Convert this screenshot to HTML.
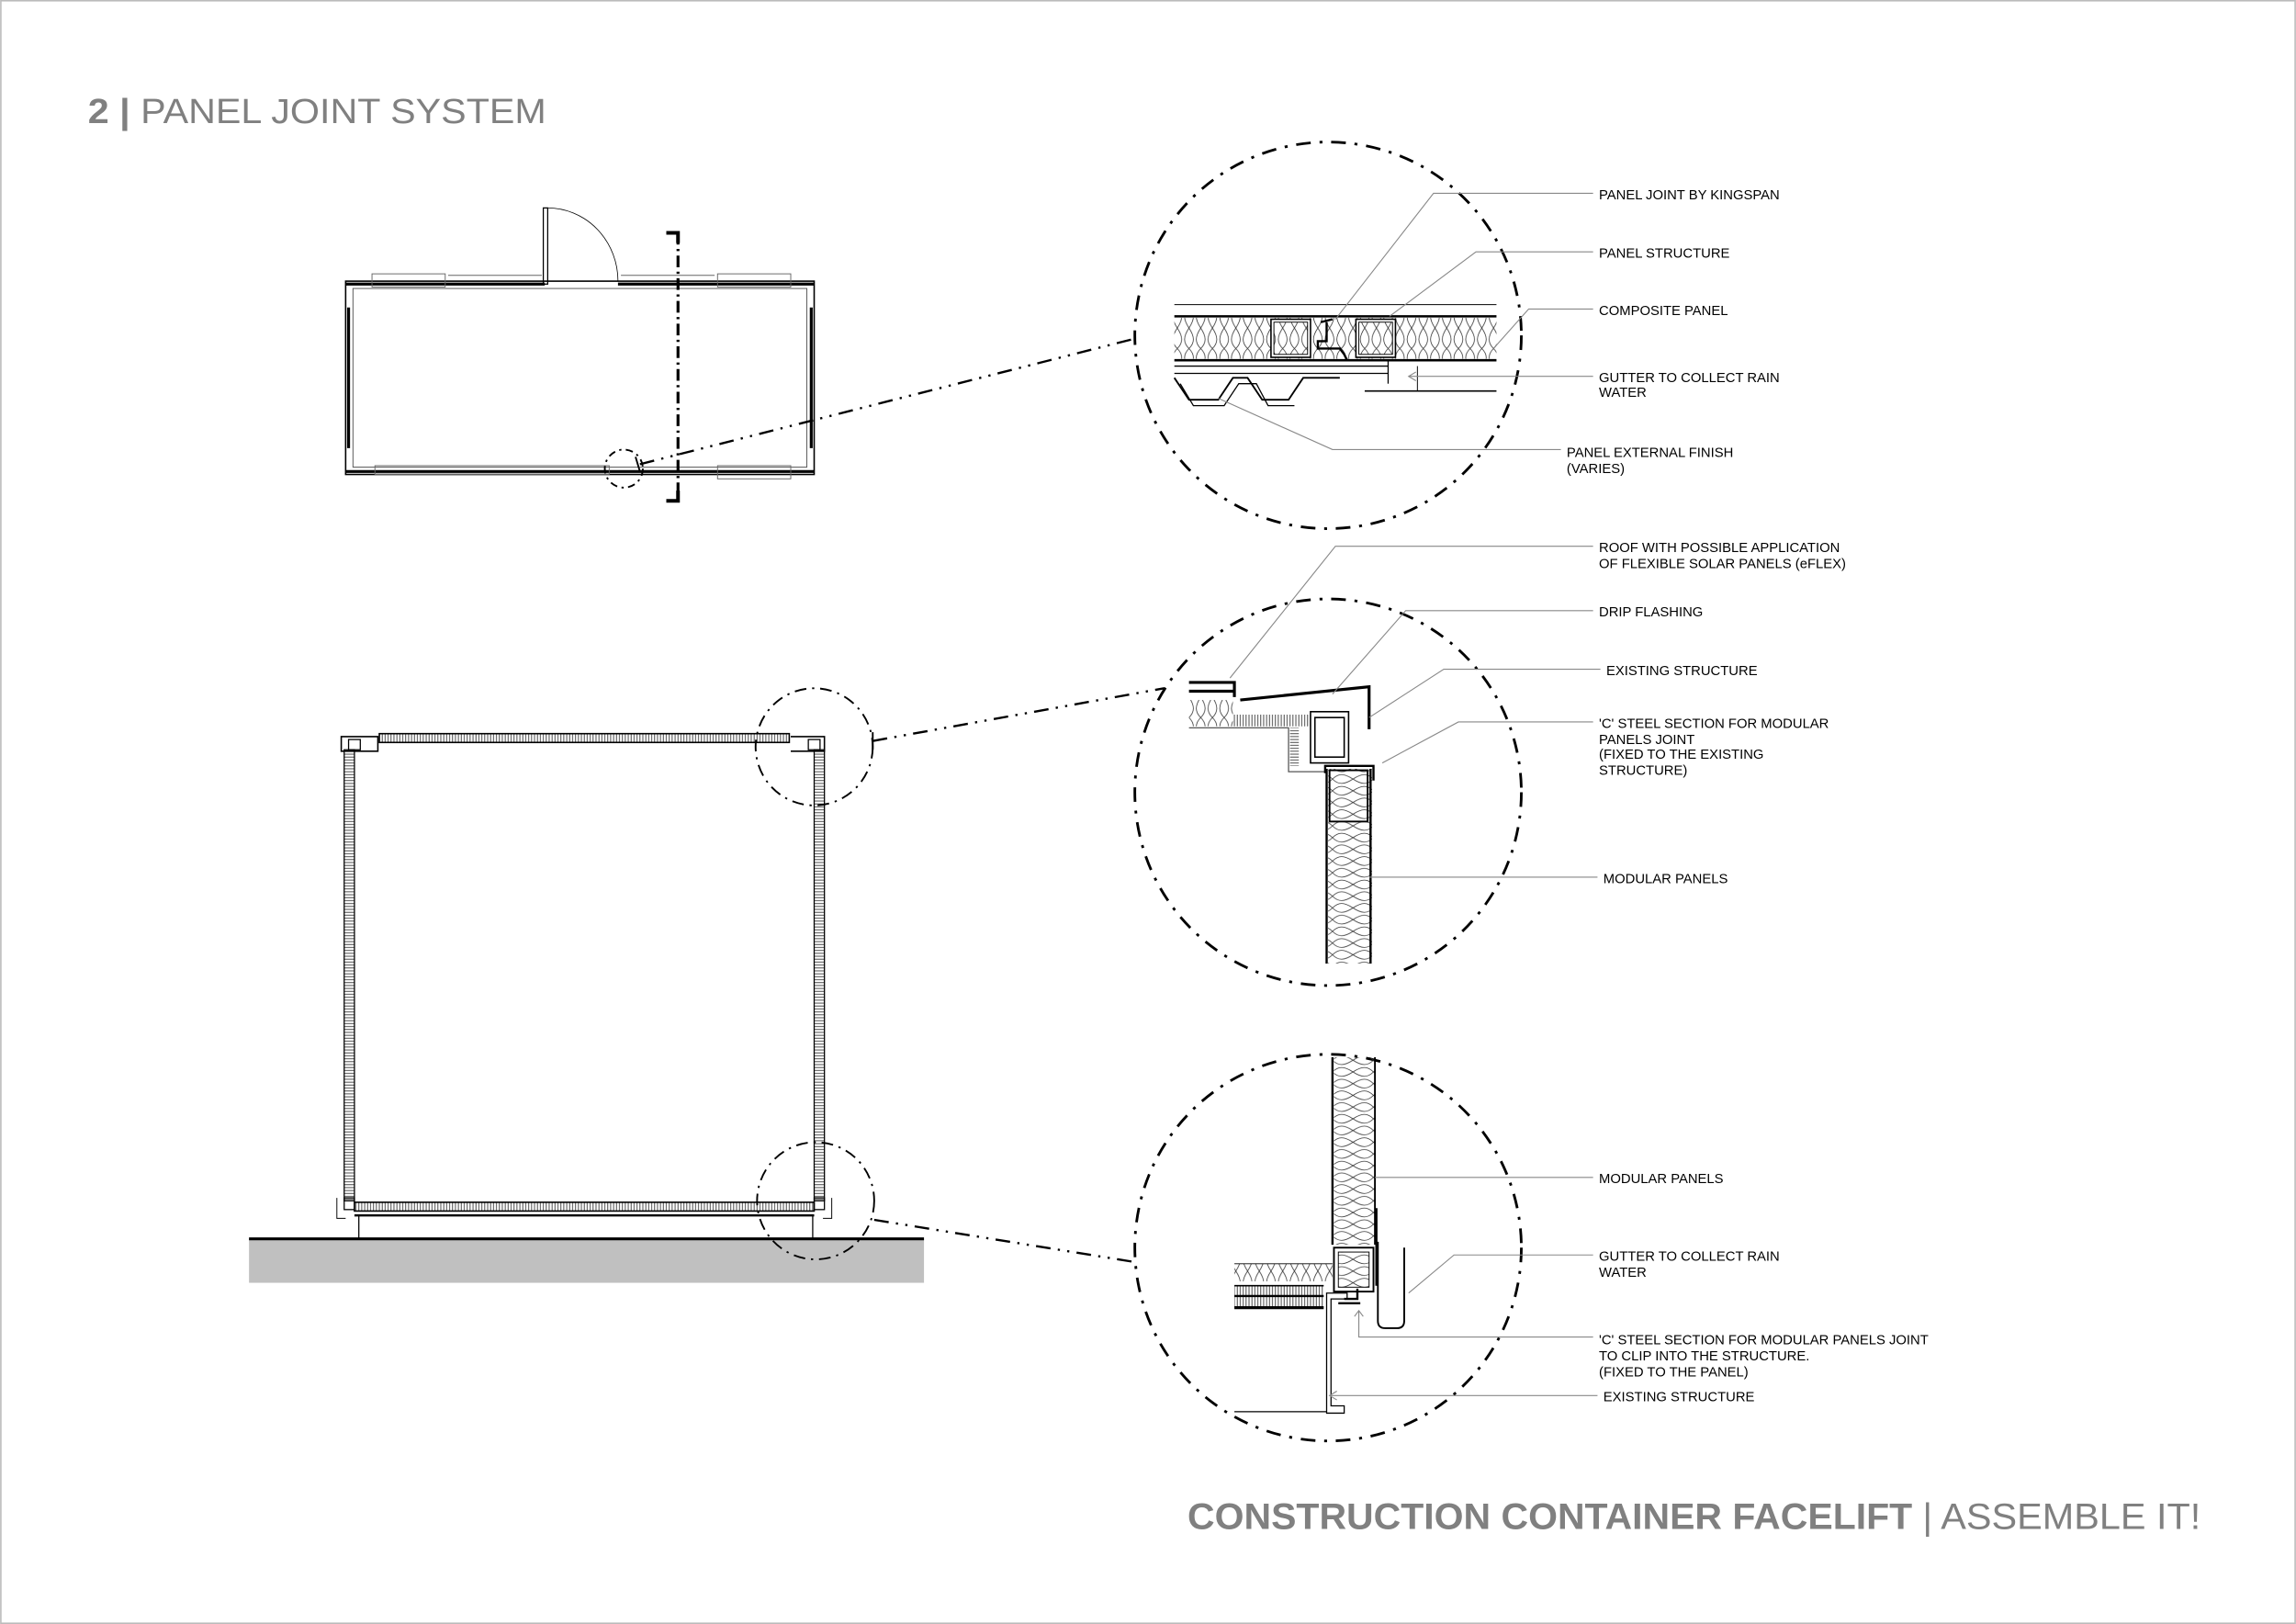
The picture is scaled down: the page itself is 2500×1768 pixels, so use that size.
<!DOCTYPE html>
<html><head><meta charset="utf-8"><style>
html,body{margin:0;padding:0;background:#fff;}
svg{display:block;}
</style></head><body>
<svg width="2500" height="1768" viewBox="0 0 1568 1109" xmlns="http://www.w3.org/2000/svg" font-family="Liberation Sans, Arial, sans-serif">
<defs>
<pattern id="insH" width="8" height="28" patternUnits="userSpaceOnUse">
<path d="M4 0 C0 6,0 10,4 14 C8 18,8 22,4 28 M4 0 C8 6,8 10,4 14 C0 18,0 22,4 28" fill="none" stroke="#333" stroke-width="0.5"/>
</pattern>
<pattern id="insV" width="28" height="8" patternUnits="userSpaceOnUse">
<path d="M0 4 C6 0,10 0,14 4 C18 8,22 8,28 4 M0 4 C6 8,10 8,14 4 C18 0,22 0,28 4" fill="none" stroke="#333" stroke-width="0.5"/>
</pattern>
<pattern id="fine" width="2" height="4" patternUnits="userSpaceOnUse">
<rect width="2" height="4" fill="#fff"/><line x1="1" y1="0" x2="1" y2="4" stroke="#444" stroke-width="0.6"/>
</pattern>
<pattern id="fineV" width="4" height="2" patternUnits="userSpaceOnUse">
<rect width="4" height="2" fill="#fff"/><line x1="0" y1="1" x2="4" y2="1" stroke="#444" stroke-width="0.6"/>
</pattern>
</defs>
<rect x="0.5" y="0.5" width="1567" height="1108" fill="#fff" stroke="#bbb" stroke-width="1"/>

<!-- Titles -->
<text x="60" y="84" font-size="24" fill="#808080" textLength="313" lengthAdjust="spacingAndGlyphs"><tspan font-weight="bold">2 |</tspan> PANEL JOINT SYSTEM</text>
<text x="811" y="1044" font-size="25" fill="#808080" font-weight="bold" textLength="495" lengthAdjust="spacingAndGlyphs">CONSTRUCTION CONTAINER FACELIFT</text>
<text x="1313" y="1044" font-size="25" fill="#808080" textLength="190" lengthAdjust="spacingAndGlyphs">| ASSEMBLE IT!</text>

<g fill="none" stroke="#000">
<!-- PLAN -->
<rect x="236" y="192" width="320" height="132" stroke-width="1"/>
<rect x="241" y="197" width="310" height="122" stroke-width="0.6" stroke="#555"/>
<line x1="236" y1="194" x2="372" y2="194" stroke-width="2"/>
<line x1="422" y1="194" x2="556" y2="194" stroke-width="2"/>
<line x1="236" y1="322" x2="556" y2="322" stroke-width="2"/>
<line x1="238" y1="210" x2="238" y2="306" stroke-width="2"/>
<line x1="554" y1="210" x2="554" y2="306" stroke-width="2"/>
<rect x="254" y="187" width="50" height="9" stroke-width="0.6" stroke="#666"/>
<rect x="490" y="187" width="50" height="9" stroke-width="0.6" stroke="#666"/>
<rect x="490" y="318" width="50" height="9" stroke-width="0.6" stroke="#666"/>
<rect x="256" y="318" width="160" height="6" stroke-width="0.6" stroke="#666"/>
<line x1="306" y1="188" x2="370" y2="188" stroke-width="0.6" stroke="#666"/>
<line x1="424" y1="188" x2="488" y2="188" stroke-width="0.6" stroke="#666"/>
<!-- door -->
<rect x="371" y="142" width="3" height="52" stroke-width="0.8"/>
<path d="M374 142 A48 50 0 0 1 422 192" stroke-width="0.5"/>
<!-- section cut -->
<line x1="463" y1="159" x2="463" y2="342" stroke-width="2" stroke-dasharray="8 3 1.5 3"/>
<polyline points="455,159 463,159 463,166" stroke-width="2.5"/>
<polyline points="455,342 463,342 463,335" stroke-width="2.5"/>
<!-- plan small circle -->
<circle cx="426" cy="320" r="13" stroke-width="1.2" stroke-dasharray="5 3 1.5 3"/>
<line x1="437" y1="317" x2="776" y2="231" stroke-width="1.5" stroke-dasharray="10 5 1.5 5 1.5 5"/>
<line x1="434" y1="312" x2="437" y2="322" stroke-width="1.2"/>

<!-- SECTION -->
<rect x="170" y="846" width="461" height="30" fill="#c0c0c0" stroke="none"/>
<line x1="170" y1="846" x2="631" y2="846" stroke-width="2"/>
<rect x="235" y="512" width="7" height="308" fill="url(#fineV)" stroke-width="0.8"/>
<rect x="556" y="512" width="7" height="308" fill="url(#fineV)" stroke-width="0.8"/>
<rect x="259" y="501" width="280" height="6" fill="url(#fine)" stroke-width="1"/>
<rect x="242" y="821" width="314" height="6" fill="url(#fine)" stroke-width="1"/>
<line x1="242" y1="830" x2="556" y2="830" stroke-width="1.5"/>
<path d="M233 503 L233 513 L258 513 L258 503 Z" stroke-width="1"/>
<rect x="238" y="505" width="8" height="7" stroke-width="0.8"/>
<path d="M540 503 L563 503 L563 513 L540 513" stroke-width="1"/>
<rect x="552" y="505" width="8" height="7" stroke-width="0.8"/>
<line x1="245" y1="830" x2="245" y2="846" stroke-width="0.8"/>
<line x1="555" y1="830" x2="555" y2="846" stroke-width="0.8"/>
<path d="M230 818 L230 832 L236 832" stroke-width="0.6"/>
<path d="M568 818 L568 832 L562 832" stroke-width="0.6"/>
<rect x="235" y="818" width="7" height="8" stroke-width="0.8"/>
<rect x="556" y="818" width="7" height="8" stroke-width="0.8"/>
<circle cx="556" cy="510" r="40" stroke-width="1.2" stroke-dasharray="8 4 1.5 4"/>
<circle cx="557" cy="820" r="40" stroke-width="1.2" stroke-dasharray="8 4 1.5 4"/>
<line x1="596" y1="506" x2="795" y2="470" stroke-width="1.5" stroke-dasharray="10 5 1.5 5 1.5 5"/>
<line x1="596" y1="500" x2="596" y2="512" stroke-width="1.2"/>
<line x1="597" y1="833" x2="776" y2="862" stroke-width="1.5" stroke-dasharray="10 5 1.5 5 1.5 5"/>

<!-- big circles -->
<circle cx="907" cy="229" r="132" stroke-width="1.8" stroke-dasharray="10 6 2 6"/>
<circle cx="907" cy="541" r="132" stroke-width="1.8" stroke-dasharray="10 6 2 6"/>
<circle cx="907" cy="852" r="132" stroke-width="1.8" stroke-dasharray="10 6 2 6"/>

<!-- DETAIL 1 -->
<line x1="802" y1="208" x2="1022" y2="208" stroke-width="0.6"/>
<rect x="802" y="217" width="220" height="28" fill="url(#insH)" stroke="none"/>
<line x1="802" y1="216" x2="1022" y2="216" stroke-width="1.6"/>
<line x1="802" y1="246" x2="1022" y2="246" stroke-width="1.6"/>
<rect x="868" y="218" width="27" height="26" fill="#fff" stroke-width="1"/>
<rect x="870" y="220" width="23" height="22" fill="url(#insH)" stroke-width="0.6"/>
<rect x="926" y="218" width="27" height="26" fill="#fff" stroke-width="1"/>
<rect x="928" y="220" width="23" height="22" fill="url(#insH)" stroke-width="0.6"/>
<path d="M902 220 L910 218 M906 220 L906 233 L900 233 L900 238 L915 238 L918 242 L920 246" stroke-width="1.5"/>
<line x1="802" y1="250" x2="948" y2="250" stroke-width="0.8"/>
<line x1="802" y1="255" x2="948" y2="255" stroke-width="0.8"/>
<line x1="948" y1="246" x2="948" y2="262" stroke-width="0.8"/>
<line x1="932" y1="267" x2="1022" y2="267" stroke-width="1"/>
<line x1="968" y1="250" x2="968" y2="267" stroke-width="0.6"/>
<path d="M802 258 L812 273 L832 273 L842 258 L852 258 L862 273 L880 273 L890 258 L915 258" stroke-width="1.2"/>
<path d="M806 262 L815 277 L836 277 L846 262 L858 262 L866 277 L884 277" stroke-width="0.8"/>

<!-- DETAIL 2 -->
<rect x="812" y="478" width="30" height="18" fill="url(#insH)" stroke="none"/>
<rect x="842" y="488" width="53" height="8" fill="url(#fine)" stroke="none"/>
<path d="M812 466 L843 466 L843 476 M812 472 L842 472" stroke-width="2"/>
<path d="M812 497 L880 497 L880 527 L905 527" stroke-width="0.8" stroke="#555"/>
<rect x="881" y="497" width="6" height="26" fill="url(#fineV)" stroke="none"/>
<path d="M847 478 L935 469 L935 498" stroke-width="2"/>
<rect x="895" y="486" width="26" height="35" stroke-width="1"/>
<rect x="898" y="490" width="20" height="27" stroke-width="1"/>
<path d="M905 528 L905 523 L938 523 L938 533" stroke-width="1.5"/>
<rect x="907" y="525" width="30" height="133" fill="url(#insV)" stroke="none"/>
<line x1="906" y1="525" x2="906" y2="658" stroke-width="1.5"/>
<line x1="936" y1="525" x2="936" y2="658" stroke-width="1.5"/>
<rect x="908" y="526" width="26" height="35" stroke-width="1.2"/>

<!-- DETAIL 3 -->
<rect x="911" y="722" width="28" height="128" fill="url(#insV)" stroke="none"/>
<line x1="910" y1="722" x2="910" y2="850" stroke-width="1.5"/>
<line x1="939" y1="722" x2="939" y2="850" stroke-width="1.2"/>
<line x1="940" y1="825" x2="940" y2="878" stroke-width="1.5"/>
<rect x="911" y="852" width="27" height="30" stroke-width="1.2"/>
<rect x="914" y="855" width="21" height="24" fill="url(#insV)" stroke-width="0.6"/>
<rect x="843" y="863" width="67" height="12" fill="url(#insH)" stroke="none"/>
<line x1="843" y1="863" x2="910" y2="863" stroke-width="0.6"/>
<rect x="843" y="878" width="61" height="15" fill="url(#fine)" stroke="none"/>
<line x1="843" y1="878" x2="904" y2="878" stroke-width="1"/>
<line x1="843" y1="885" x2="904" y2="885" stroke-width="1.5"/>
<line x1="843" y1="893" x2="904" y2="893" stroke-width="2"/>
<path d="M906 883 L906 965 L918 965 L918 960 L909 960 L909 887 L920 887 L920 883 Z" stroke-width="0.8"/>
<path d="M918 887 L927 887 L927 880 M914 890 L929 890" stroke-width="1.5"/>
<path d="M941 848 L941 902 Q941 907 946 907 L954 907 Q959 907 959 902 L959 852" stroke-width="1.2"/>
<line x1="843" y1="964" x2="906" y2="964" stroke-width="0.8"/>
</g>

<!-- leaders -->
<g fill="none" stroke="#888" stroke-width="0.7">
<polyline points="912,218 979,132 1088,132"/>
<polyline points="949,216 1008,172 1088,172"/>
<polyline points="1020,238 1044,211 1088,211"/>
<polyline points="962,257 1088,257"/><polyline points="967,254 962,257 967,260"/>
<polyline points="832,272 910,307 1066,307"/>
<polyline points="840,463 912,373 1088,373"/>
<polyline points="910,474 960,417 1088,417"/>
<polyline points="935,490 986,457 1093,457"/>
<polyline points="944,521 996,493 1088,493"/>
<polyline points="935,599 1091,599"/>
<polyline points="939,804 1088,804"/>
<polyline points="962,883 993,857 1088,857"/>
<polyline points="928,895 928,913 1088,913"/><polyline points="925,899 928,895 931,899"/>
<polyline points="908,953 1091,953"/><polyline points="913,950 908,953 913,956"/>
</g>

<g font-size="9.3" fill="#000">
<text x="1092" y="136">PANEL JOINT BY KINGSPAN</text>
<text x="1092" y="176">PANEL STRUCTURE</text>
<text x="1092" y="215">COMPOSITE PANEL</text>
<text x="1092" y="261">GUTTER TO COLLECT RAIN</text>
<text x="1092" y="271">WATER</text>
<text x="1070" y="312">PANEL EXTERNAL FINISH</text>
<text x="1070" y="323">(VARIES)</text>
<text x="1092" y="377">ROOF WITH POSSIBLE APPLICATION</text>
<text x="1092" y="388">OF  FLEXIBLE SOLAR PANELS (eFLEX)</text>
<text x="1092" y="421">DRIP FLASHING</text>
<text x="1097" y="461">EXISTING STRUCTURE</text>
<text x="1092" y="497">'C' STEEL SECTION FOR MODULAR</text>
<text x="1092" y="508">PANELS JOINT</text>
<text x="1092" y="518">(FIXED TO THE EXISTING</text>
<text x="1092" y="529">STRUCTURE)</text>
<text x="1095" y="603">MODULAR PANELS</text>
<text x="1092" y="808">MODULAR PANELS</text>
<text x="1092" y="861">GUTTER TO COLLECT RAIN</text>
<text x="1092" y="872">WATER</text>
<text x="1092" y="918">'C' STEEL SECTION FOR MODULAR PANELS JOINT</text>
<text x="1092" y="929">TO CLIP INTO THE STRUCTURE.</text>
<text x="1092" y="940">(FIXED TO THE PANEL)</text>
<text x="1095" y="957">EXISTING STRUCTURE</text>
</g>
</svg>
</body></html>
